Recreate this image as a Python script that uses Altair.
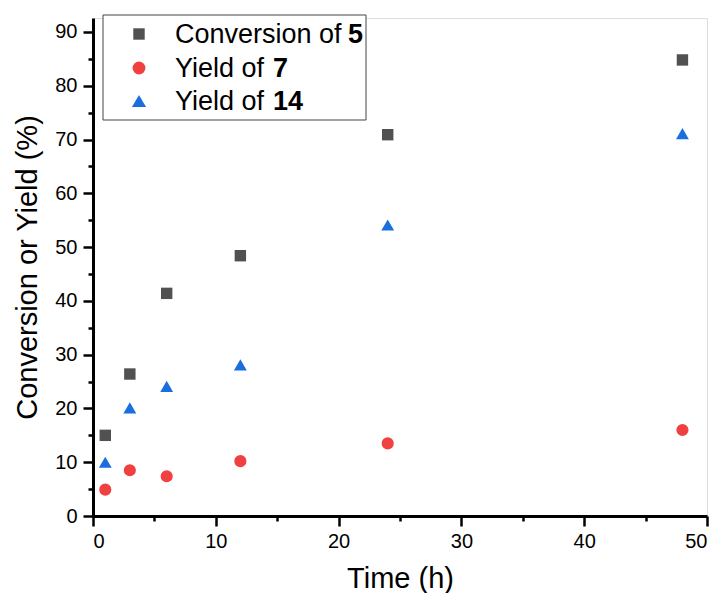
import altair as alt
import pandas as pd

# ---- data ----
time_h = [1, 3, 6, 12, 24, 48]
conv5 = [15.0, 26.4, 41.4, 48.4, 70.9, 84.8]
yield7 = [4.9, 8.5, 7.4, 10.2, 13.5, 16.0]
yield14 = [10.0, 20.1, 24.1, 28.1, 54.1, 71.1]

series = ["Conversion of 5", "Yield of 7", "Yield of 14"]
legend_prefix = ["Conversion of ", "Yield of ", "Yield of "]
legend_bold = ["5", "7", "14"]
colors = ["#515151", "#F14040", "#1A6FDF"]
shapes = ["square", "circle", "triangle-up"]
sizes = [130, 165, 200]

rows = []
for name, vals in zip(series, [conv5, yield7, yield14]):
    for t, v in zip(time_h, vals):
        rows.append({"time": t, "value": v, "series": name})
df = pd.DataFrame(rows)

FONT = "Liberation Sans"

major_minor = {"condition": {"test": "datum.value % 10 === 0", "value": 10}, "value": 5}

x_axis = alt.Axis(
    values=list(range(0, 51, 5)),
    labelExpr="datum.value % 10 === 0 ? datum.label : ''",
    tickSize=major_minor,
    tickWidth=2.5, domainWidth=3, domainColor="black", tickColor="black",
    labelFontSize=20, labelColor="black", labelPadding=5, labelFont=FONT,
    title="Time (h)", titleFontSize=29, titleFontWeight="normal", titleColor="black",
    titleFont=FONT, titlePadding=13, grid=False,
)
y_axis = alt.Axis(
    values=list(range(0, 91, 5)),
    labelExpr="datum.value % 10 === 0 ? datum.label : ''",
    tickSize=major_minor,
    tickWidth=2.5, domainWidth=3, domainColor="black", tickColor="black",
    labelFontSize=20, labelColor="black", labelPadding=6, labelFont=FONT,
    title="Conversion or Yield (%)", titleFontSize=29, titleFontWeight="normal",
    titleColor="black", titleFont=FONT, titlePadding=12, grid=False,
)

points = alt.Chart(df).mark_point(filled=True, opacity=1).encode(
    x=alt.X("time:Q", scale=alt.Scale(domain=[0, 50], nice=False, zero=False), axis=x_axis),
    y=alt.Y("value:Q", scale=alt.Scale(domain=[0, 92.6], nice=False, zero=False), axis=y_axis),
    color=alt.Color("series:N", scale=alt.Scale(domain=series, range=colors), legend=None),
    shape=alt.Shape("series:N", scale=alt.Scale(domain=series, range=shapes), legend=None),
    size=alt.Size("series:N", scale=alt.Scale(domain=series, range=sizes), legend=None),
)

# ---- custom legend (for the bold compound numbers) ----
box = alt.Chart(pd.DataFrame({"a": [0]})).mark_rect(
    fill="white", stroke="#444444", strokeWidth=1
).encode(x=alt.value(10), x2=alt.value(273), y=alt.value(-3), y2=alt.value(102))

layers = [box, points]
row_y = [16, 50, 83]
for i in range(3):
    d = pd.DataFrame({"prefix": [legend_prefix[i]], "bold": [legend_bold[i]]})
    sym = alt.Chart(d).mark_point(
        filled=True, opacity=1, shape=shapes[i], color=colors[i], size=sizes[i]
    ).encode(x=alt.value(46), y=alt.value(row_y[i]))
    t1 = alt.Chart(d).mark_text(
        align="left", baseline="middle", fontSize=27, font=FONT, color="black"
    ).encode(x=alt.value(82), y=alt.value(row_y[i] + 1), text="prefix:N")
    bx = 255 if i == 0 else 180
    t2 = alt.Chart(d).mark_text(
        align="left", baseline="middle", fontSize=27, font=FONT, fontWeight="bold", color="black"
    ).encode(x=alt.value(bx), y=alt.value(row_y[i] + 1), text="bold:N")
    layers += [sym, t1, t2]

chart = alt.layer(*layers).properties(
    width=614, height=498,
    autosize=alt.AutoSizeParams(type="none"),
    padding={"left": 85, "top": 10, "right": 5, "bottom": 77},
).configure_view(stroke=None).configure(background="white")

chart.save("out.html", embed_options={"renderer": "svg", "actions": False})
